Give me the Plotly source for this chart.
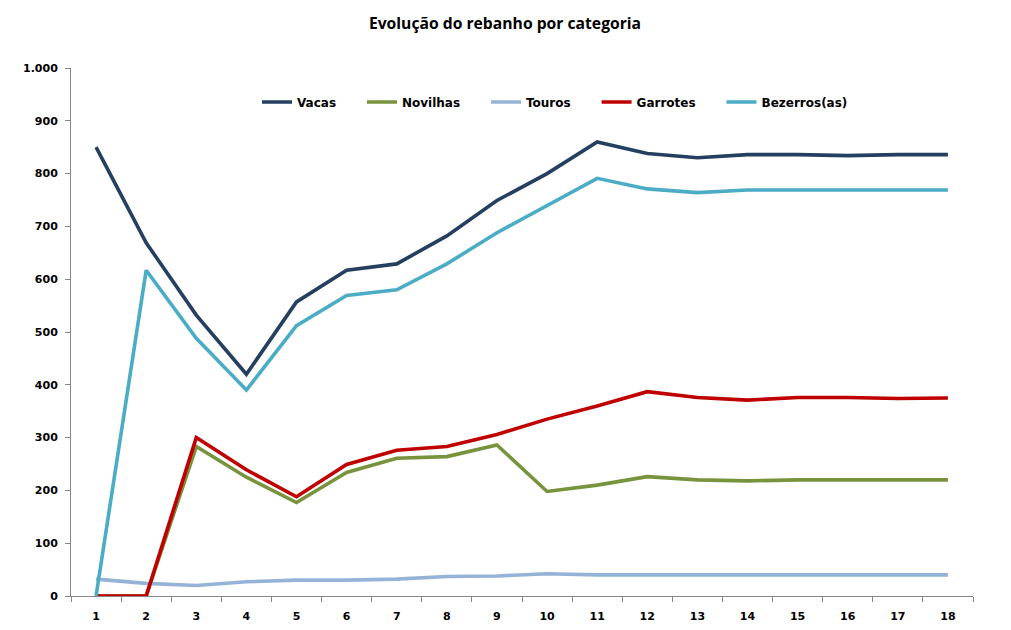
import plotly.graph_objects as go

periods = [str(i) for i in range(1, 19)]
vacas = [850, 669, 532, 420, 557, 617, 629, 682, 749, 800, 860, 838, 830, 836, 836, 834, 836, 836]
novilhas = [0, 0, 283, 225, 177, 234, 261, 264, 286, 198, 210, 226, 220, 218, 220, 220, 220, 220]
touros = [32, 24, 20, 27, 30, 30, 32, 37, 38, 42, 40, 40, 40, 40, 40, 40, 40, 40]
garrotes = [0, 0, 300, 239, 188, 249, 276, 283, 306, 335, 360, 387, 376, 371, 376, 376, 374, 375]
bezerros = [0, 617, 488, 390, 512, 569, 580, 629, 688, 739, 791, 771, 764, 769, 769, 769, 769, 769]

series = [
    ("Vacas", vacas, "#243F60"),
    ("Novilhas", novilhas, "#77933C"),
    ("Touros", touros, "#95B3D7"),
    ("Garrotes", garrotes, "#C00000"),
    ("Bezerros(as)", bezerros, "#4BACC6"),
]

PAD = "\u00a0" * 5

fig = go.Figure()
for name, vals, col in series:
    fig.add_trace(go.Scatter(x=periods, y=vals, name=name + PAD, mode="lines",
                             line=dict(color=col, width=3.6)))

font_ticks = dict(family="DejaVu Sans", size=11, color="#000000", weight="bold")
fig.update_layout(
    width=1011, height=630,
    paper_bgcolor="white", plot_bgcolor="white",
    margin=dict(l=63, r=46, t=60, b=42),
    separators=",.",
    font=dict(family="DejaVu Sans"),
    title=dict(text="Evolução do rebanho por categoria", x=0.4916, xanchor="center",
               y=0.976, yanchor="middle",
               font=dict(family="Open Sans", size=15.7, color="#000000", weight="bold")),
    showlegend=True,
    legend=dict(orientation="h", x=0.2062, xanchor="left", y=0.9356, yanchor="middle",
                font=dict(family="DejaVu Sans", size=12, color="#000000", weight="bold"),
                bgcolor="rgba(0,0,0,0)", itemwidth=30, traceorder="normal"),
    xaxis=dict(type="category", range=[-0.5, 17.5], showgrid=False,
               showline=True, linecolor="#868686", linewidth=1,
               ticks="outside", tickson="boundaries", ticklen=5, tickcolor="#868686",
               ticklabelstandoff=10,
               tickfont=font_ticks, fixedrange=True),
    yaxis=dict(range=[0, 1000], dtick=100, showgrid=False,
               showline=True, linecolor="#868686", linewidth=1,
               ticks="outside", ticklen=5, tickcolor="#868686",
               ticklabelstandoff=5,
               tickformat=",d",
               tickfont=font_ticks, zeroline=False),
)

fig.write_html("out.html")
